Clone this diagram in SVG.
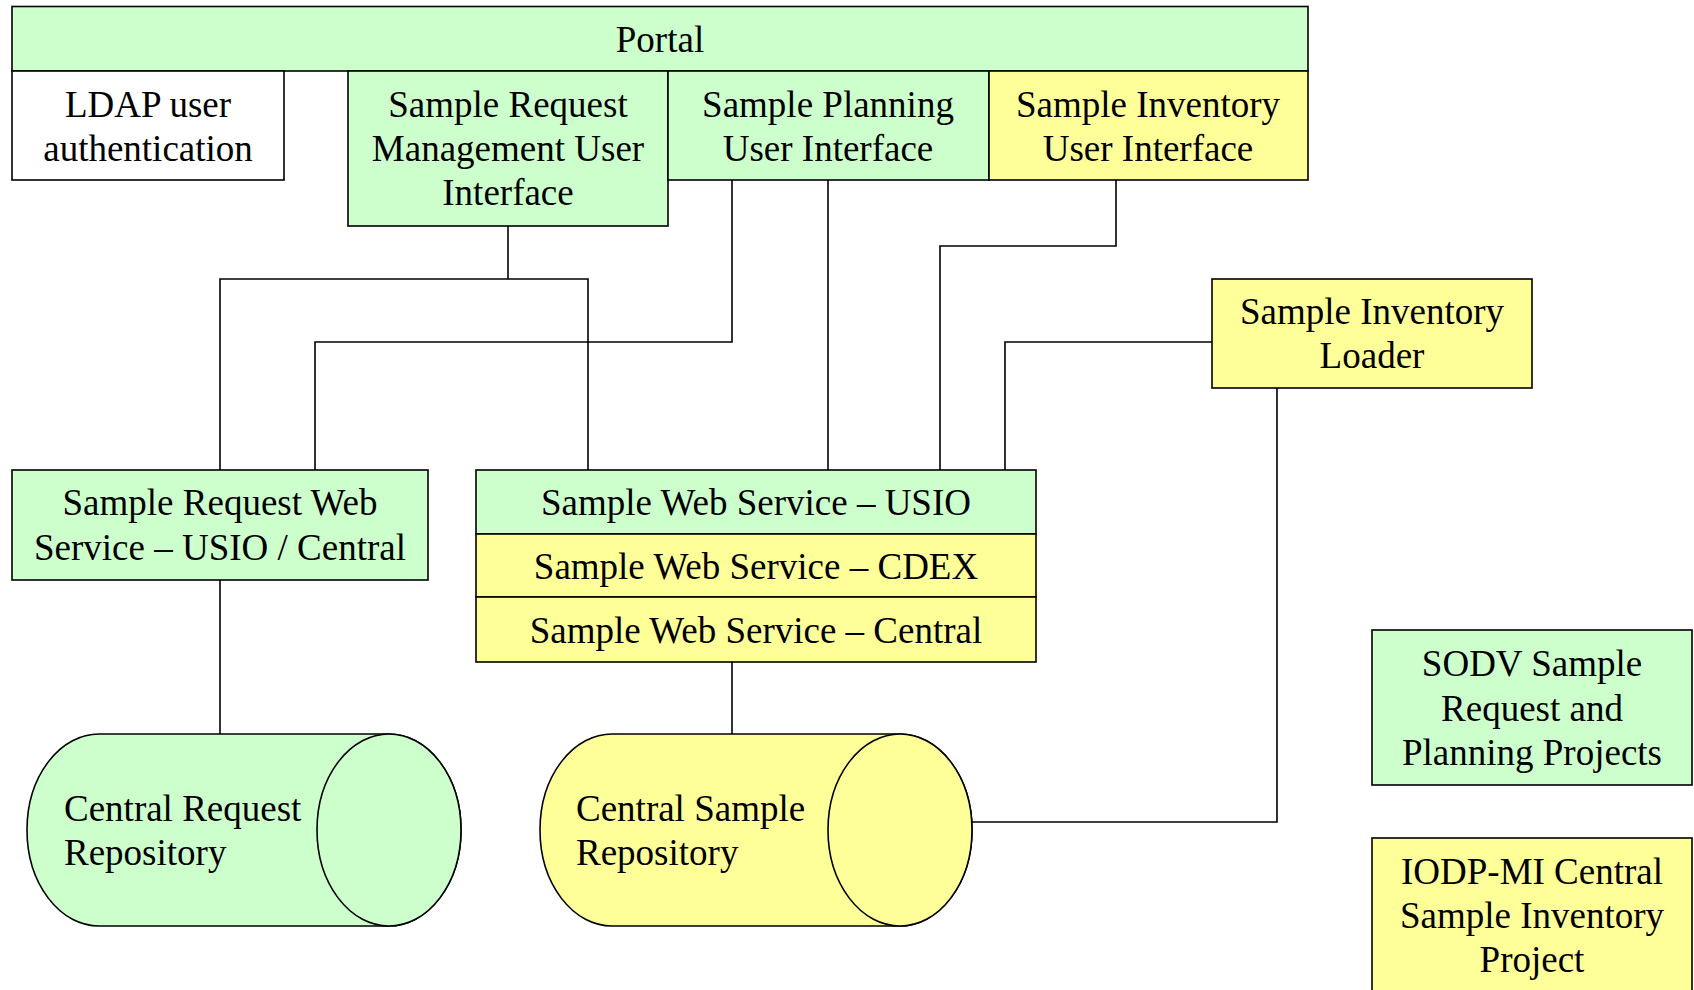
<svg xmlns="http://www.w3.org/2000/svg" width="1694" height="990" viewBox="0 0 1694 990">
<style>
.g{fill:#CCFFCC;stroke:#000;stroke-width:1.6}
.y{fill:#FFFF99;stroke:#000;stroke-width:1.6}
.w{fill:#FFFFFF;stroke:#000;stroke-width:1.6}
.c{fill:none;stroke:#000;stroke-width:1.6}
.m{text-anchor:middle}
</style>
<rect width="1694" height="990" fill="#FFFFFF"/>
<g id="connectors">
<polyline class="c" points="508,226 508,279"/>
<polyline class="c" points="220,470 220,279 588,279 588,470"/>
<polyline class="c" points="732,180 732,342 315,342 315,470"/>
<polyline class="c" points="828,180 828,470"/>
<polyline class="c" points="1116,180 1116,246 940,246 940,470"/>
<polyline class="c" points="1212,342 1005,342 1005,470"/>
<polyline class="c" points="1277,388 1277,822 972,822"/>
<polyline class="c" points="220,580 220,742"/>
<polyline class="c" points="732,662 732,743"/>
</g>
<g font-family="'Liberation Serif', 'Times New Roman', 'DejaVu Serif', serif" font-size="37" fill="#000">
<g id="portal">
<rect class="g" x="12" y="6.5" width="1296" height="64.5"/>
<text class="m" x="660" y="52">Portal</text>
</g>
<g id="ldap">
<rect class="w" x="12" y="71" width="272" height="109"/>
<text class="m" x="148" y="117">LDAP user</text>
<text class="m" x="148" y="161">authentication</text>
</g>
<g id="srm-ui">
<rect class="g" x="348" y="71" width="320" height="155"/>
<text class="m" x="508" y="117">Sample Request</text>
<text class="m" x="508" y="161">Management User</text>
<text class="m" x="508" y="205">Interface</text>
</g>
<g id="planning-ui">
<rect class="g" x="668" y="71" width="321" height="109"/>
<text class="m" x="828" y="117">Sample Planning</text>
<text class="m" x="828" y="161">User Interface</text>
</g>
<g id="inventory-ui">
<rect class="y" x="989" y="71" width="319" height="109"/>
<text class="m" x="1148" y="117">Sample Inventory</text>
<text class="m" x="1148" y="161">User Interface</text>
</g>
<g id="inventory-loader">
<rect class="y" x="1212" y="279" width="320" height="109"/>
<text class="m" x="1372" y="324">Sample Inventory</text>
<text class="m" x="1372" y="368">Loader</text>
</g>
<g id="srws">
<rect class="g" x="12" y="470" width="416" height="110"/>
<text class="m" x="220" y="515">Sample Request Web</text>
<text class="m" x="220" y="560">Service – USIO / Central</text>
</g>
<g id="sws-usio">
<rect class="g" x="476" y="470" width="560" height="64"/>
<text class="m" x="756" y="515">Sample Web Service – USIO</text>
</g>
<g id="sws-cdex">
<rect class="y" x="476" y="534" width="560" height="63"/>
<text class="m" x="756" y="579">Sample Web Service – CDEX</text>
</g>
<g id="sws-central">
<rect class="y" x="476" y="597" width="560" height="65"/>
<text class="m" x="756" y="643">Sample Web Service – Central</text>
</g>
<g id="central-request-repo">
<path class="g" d="M99,734 L389,734 A72,96 0 0 1 389,926 L99,926 A72,96 0 0 1 99,734 Z"/>
<ellipse class="g" cx="389" cy="830" rx="72" ry="96"/>
<text x="64" y="821">Central Request</text>
<text x="64" y="865">Repository</text>
</g>
<g id="central-sample-repo">
<path class="y" d="M612,734 L900,734 A72,96 0 0 1 900,926 L612,926 A72,96 0 0 1 612,734 Z"/>
<ellipse class="y" cx="900" cy="830" rx="72" ry="96"/>
<text x="576" y="821">Central Sample</text>
<text x="576" y="865">Repository</text>
</g>
<g id="legend-sodv">
<rect class="g" x="1372" y="630" width="320" height="155"/>
<text class="m" x="1532" y="676">SODV Sample</text>
<text class="m" x="1532" y="721">Request and</text>
<text class="m" x="1532" y="765">Planning Projects</text>
</g>
<g id="legend-iodp">
<rect class="y" x="1372" y="838" width="320" height="160"/>
<text class="m" x="1532" y="884">IODP-MI Central</text>
<text class="m" x="1532" y="928">Sample Inventory</text>
<text class="m" x="1532" y="972">Project</text>
</g>
</g>
</svg>
